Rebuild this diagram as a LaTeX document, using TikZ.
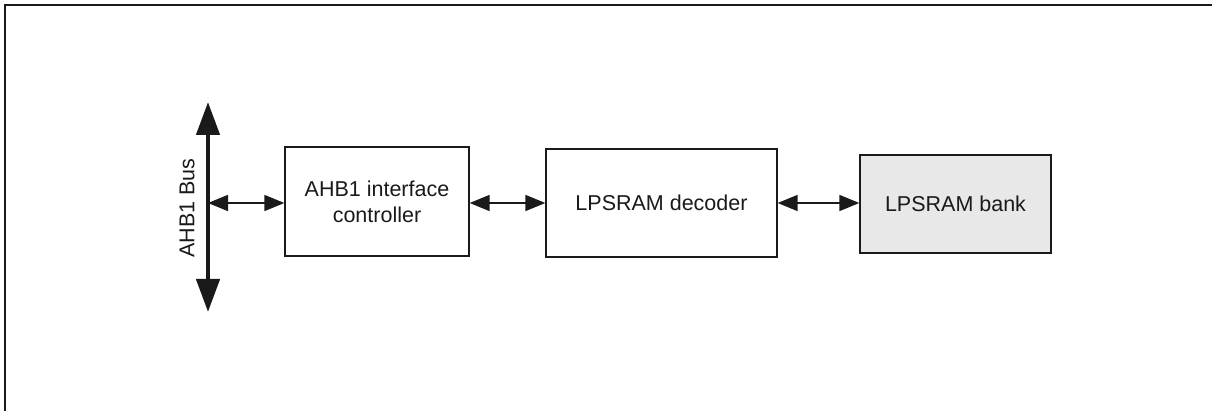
\documentclass[tikz,border=0pt]{standalone}
\usepackage{fontspec}
\setmainfont{Liberation Sans}
\usetikzlibrary{arrows.meta}
\definecolor{ink}{HTML}{1A1A1A}
\definecolor{bankfill}{HTML}{E8E8E8}
\begin{document}
\begin{tikzpicture}[x=1pt,y=-1pt,
  blockbox/.style={draw=ink,line width=1.3pt,fill=white,inner sep=0pt,align=center,
    font=\fontsize{21.5}{26}\selectfont,text=ink},
  link/.style={draw=ink,line width=1.6pt,{Triangle[length=20pt,width=16pt]}-{Triangle[length=20pt,width=16pt]}},
  bus/.style={draw=ink,line width=4.5pt,{Triangle[length=33pt,width=23pt]}-{Triangle[length=33pt,width=23pt]}},
  frame/.style={draw=ink,line width=2pt}]
\useasboundingbox (0,0) rectangle (1212,411);
\fill[white] (0,0) rectangle (1212,411);
% frame (cropped: top and left edges)
\coordinate (fTL) at (5,5);
\coordinate (fTR) at (1213,5);
\coordinate (fBL) at (5,412);
\draw[frame] (fTR) -- (fTL) -- (fBL);
% blocks
\node[blockbox,minimum width=184pt,minimum height=109pt] (ahb) at (377,201.5) {AHB1 interface\\controller};
\node[blockbox,minimum width=231pt,minimum height=108pt] (dec) at (661.5,203) {LPSRAM decoder};
\node[blockbox,fill=bankfill,minimum width=191pt,minimum height=98pt] (bank) at (955.5,204) {LPSRAM bank};
% bus
\coordinate (busTop) at (208,102);
\coordinate (busBot) at (208,312);
\coordinate (busTap) at (208,203);
\draw[bus] (busTop) -- (busBot);
\node[rotate=90,font=\fontsize{21.5}{26}\selectfont,text=ink] (buslbl) at (187,208) {AHB1 Bus};
% links
\draw[link] (busTap) -- (busTap -| ahb.west);
\draw[link] (ahb.east |- 0,203) -- (dec.west |- 0,203);
\draw[link] (dec.east |- 0,203) -- (bank.west |- 0,203);
\end{tikzpicture}
\end{document}
